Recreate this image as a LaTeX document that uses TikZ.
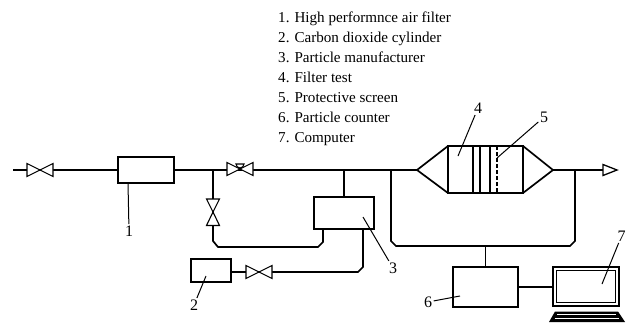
\documentclass[tikz,border=0pt]{standalone}
\usepackage{fontspec}
\setmainfont{Liberation Serif}
\usetikzlibrary{arrows.meta,positioning,calc}
\tikzset{
 pipe/.style={line width=1.7pt},
 unitbox/.style={draw,line width=1.7pt,minimum width=#1,inner sep=0pt,outer sep=0pt,anchor=north west},
 leader/.style={line width=1pt},
 partnum/.style={font=\fontsize{16}{16}\selectfont,inner sep=1.5pt},
 valveleg/.style={draw,line width=1.1pt,fill=white,line join=miter},
}
\newcommand{\hvalve}[3]{% name, x, y
 \coordinate (#1) at (#2,#3);
 \draw[valveleg] (#2-13,#3-6.5)--(#2,#3)--(#2-13,#3+6.5)--cycle;
 \draw[valveleg] (#2+13,#3-6.5)--(#2,#3)--(#2+13,#3+6.5)--cycle;
}
\begin{document}
\begin{tikzpicture}[x=1pt,y=-1pt]
\useasboundingbox (0,0) rectangle (627,322);
% parts list
\foreach \j/\t in {0/{1. High performnce air filter},1/{2. Carbon dioxide cylinder},2/{3. Particle manufacturer},3/{4. Filter test},4/{5. Protective screen},5/{6. Particle counter},6/{7. Computer}}
 \node[anchor=base west,inner sep=0pt,font=\fontsize{15.1}{15}\selectfont] (item\j) at (278,{22+\j*20.1}) {\t};
% boxes
\node[unitbox=56pt,minimum height=26pt] (hepa) at (118,157) {};
\node[unitbox=40pt,minimum height=23pt] (cylinder) at (191,259) {};
\node[unitbox=60pt,minimum height=32pt] (maker) at (314,197) {};
\node[unitbox=65pt,minimum height=40pt] (counter) at (453,267) {};
\node[unitbox=75pt,minimum height=47pt] (test) at (448,146) {};
\node[draw,line width=1.1pt,inner sep=0pt,outer sep=0pt,minimum width=66pt,minimum height=39pt,anchor=north west] (monitor) at (553,267) {};
\node[draw,line width=1.2pt,inner sep=0pt,outer sep=0pt,minimum width=59pt,minimum height=32.5pt] (screen) at (monitor.center) {};
% free ends of the pipes
\coordinate (inlet) at (13,170);
\coordinate (tipL) at (417,170);
\coordinate (tipR) at (553,170);
\coordinate (outlet) at (604,170);
\draw[pipe] (inlet)--(hepa.west |- inlet);
\draw[pipe] (hepa.east)--(tipL);
\draw[pipe,line join=miter] (test.north west)--(tipL)--(test.south west);
\draw[pipe,line join=miter] (test.north east)--(tipR)--(test.south east);
\draw[pipe] (tipR)--(outlet);
\draw[line width=1.3pt,fill=white] (603,164.5)--(617,170)--(603,175.5)--cycle;
% screens inside the test section
\foreach \sx in {473,480,490}
 \draw[line width=1.1pt] (\sx,146)--(\sx,193);
\draw[line width=1.1pt,dash pattern=on 4pt off 2pt] (497,146)--(497,193);
% branches
\draw[pipe] (213,170)--(213,241)--(218,247)--(318,247)--(323,242)--(maker.south -| 323,0);
\draw[pipe] (cylinder.east |- 0,272)--(358,272)--(363,267)--(maker.south -| 363,0);
\draw[pipe] (maker.north -| 344,0)--(344,170);
\draw[pipe] (391,170)--(391,241)--(396,246)--(570,246)--(575,241)--(575,170);
\draw[pipe] (counter.north |- 0,246)--(counter.north);
\draw[pipe] (counter.east)--(counter.east -| monitor.west);
% valves
\hvalve{vA}{40}{170}
\hvalve{vB}{240}{169}
\hvalve{vD}{259}{272}
\draw[valveleg] (206.5,199)--(213,212)--(219.5,199)--cycle;
\draw[valveleg] (206.5,225.5)--(213,212)--(219.5,225.5)--cycle;
\draw[line width=1.1pt] (240,169)--(240,164);
\draw[line width=1.1pt,fill=white] (236,164) arc (180:0:4) --cycle;
% keyboard
\fill (555,311.5)--(618,311.5)--(625,322)--(549,322)--cycle;
\foreach \ky/\kw in {314.5/59,318/64}
 \draw[white,line width=.8pt] (586.5-\kw/2,\ky)--(586.5+\kw/2,\ky);
% part numbers with leaders
\foreach \n/\nx/\ny/\px/\py in {1/129/231/128/183,2/194/305/206/276,3/393/268/363/217,4/478/108/458/156,5/544/117/497/158,6/428/302/460/296,7/621.5/236/602/284}{
 \node[partnum] (n\n) at (\nx,\ny) {\n};
 \coordinate (p\n) at (\px,\py);
 \draw[leader] (n\n)--(p\n);
}
\end{tikzpicture}
\end{document}
